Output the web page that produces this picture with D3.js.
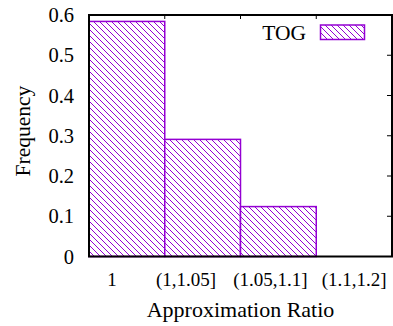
<!DOCTYPE html>
<html>
<head>
<meta charset="utf-8">
<script src="https://cdn.jsdelivr.net/npm/d3@7"></script>
<style>
  body { margin: 0; background: #fff; }
</style>
</head>
<body>
<div id="chart"></div>
<script>
// data
var bins = ["1", "(1,1.05]", "(1.05,1.1]", "(1.1,1.2]"];
var freq = [0.584, 0.291, 0.124, 0];
var yTicks = [0, 0.1, 0.2, 0.3, 0.4, 0.5, 0.6];
var seriesName = "TOG";

var W = 393, H = 326,
    margin = { top: 15, right: 1, bottom: 69.5, left: 89 },
    purple = "#9400d3",
    serif = "'Liberation Serif', 'DejaVu Serif', serif";

var x = d3.scaleBand()
    .domain(bins)
    .range([margin.left, W - margin.right])
    .padding(0);

var y = d3.scaleLinear()
    .domain([0, 0.6])
    .range([H - margin.bottom, margin.top]);

var svg = d3.select("#chart").append("svg")
    .attr("width", W)
    .attr("height", H)
    .attr("font-family", serif);

// hatch pattern like gnuplot's "\\\\" fill
var hs = 6;
var pat = svg.append("defs").append("pattern")
    .attr("id", "hatch")
    .attr("patternUnits", "userSpaceOnUse")
    .attr("width", hs).attr("height", hs);
pat.append("path")
    .attr("d", `M-2,-2L${hs + 2},${hs + 2}M-2,${hs - 2}L2,${hs + 2}M${hs - 2},-2L${hs + 2},2`)
    .attr("stroke", purple)
    .attr("stroke-width", 1)
    .attr("fill", "none");

var x0 = margin.left, x1 = W - margin.right,
    y0 = H - margin.bottom, y1 = margin.top;

// ticks (inside), left + right mirrored
var tickLen = 5;
svg.append("g").selectAll("line").data(yTicks).enter()
  .append("line")
    .attr("x1", x0).attr("x2", x0 + tickLen)
    .attr("y1", d => y(d)).attr("y2", d => y(d))
    .attr("stroke", "#000");
svg.append("g").selectAll("line").data(yTicks).enter()
  .append("line")
    .attr("x1", x1).attr("x2", x1 - tickLen)
    .attr("y1", d => y(d)).attr("y2", d => y(d))
    .attr("stroke", "#000");

// top ticks at bin boundaries
svg.append("g").selectAll("line").data(bins.slice(1)).enter()
  .append("line")
    .attr("x1", d => x(d)).attr("x2", d => x(d))
    .attr("y1", y1).attr("y2", y1 + 4)
    .attr("stroke", "#000");

// bars
var bars = svg.append("g").selectAll("g").data(bins).enter().append("g");
bars.append("rect")
    .attr("x", d => x(d))
    .attr("y", (d, i) => y(freq[i]))
    .attr("width", x.bandwidth())
    .attr("height", (d, i) => y(0) - y(freq[i]))
    .attr("fill", "#fff");
bars.append("rect")
    .attr("x", d => x(d))
    .attr("y", (d, i) => y(freq[i]))
    .attr("width", x.bandwidth())
    .attr("height", (d, i) => y(0) - y(freq[i]))
    .attr("fill", "url(#hatch)")
    .attr("stroke", (d, i) => freq[i] > 0 ? purple : "none")
    .attr("stroke-width", 1.5);

// border
svg.append("rect")
    .attr("x", x0).attr("y", y1)
    .attr("width", x1 - x0).attr("height", y0 - y1)
    .attr("fill", "none")
    .attr("stroke", "#000")
    .attr("stroke-width", 2);

// y tick labels
svg.append("g").selectAll("text").data(yTicks).enter()
  .append("text")
    .attr("x", 74)
    .attr("y", d => y(d))
    .attr("dy", "0.35em")
    .attr("text-anchor", "end")
    .attr("font-size", 20.5)
    .text(d => d === 0 ? "0" : d3.format(".1f")(d));

// x tick labels (gnuplot put them a bit left of the bin centres)
var labelShift = [-15, -16.5, -8, 0];
svg.append("g").selectAll("text").data(bins).enter()
  .append("text")
    .attr("x", (d, i) => x(d) + x.bandwidth() / 2 + labelShift[i])
    .attr("y", 286)
    .attr("text-anchor", "middle")
    .attr("font-size", 19)
    .text(d => d);

// axis titles
svg.append("text")
    .attr("x", (x0 + x1) / 2)
    .attr("y", 317)
    .attr("text-anchor", "middle")
    .attr("font-size", 22)
    .text("Approximation Ratio");

svg.append("text")
    .attr("transform", "translate(30,131) rotate(-90)")
    .attr("text-anchor", "middle")
    .attr("font-size", 21.5)
    .text("Frequency");

// legend
svg.append("text")
    .attr("x", 306)
    .attr("y", 40)
    .attr("text-anchor", "end")
    .attr("font-size", 21.5)
    .text(seriesName);
svg.append("rect")
    .attr("x", 320.5).attr("y", 25)
    .attr("width", 44).attr("height", 14.5)
    .attr("fill", "url(#hatch)")
    .attr("stroke", purple)
    .attr("stroke-width", 1.5);
</script>
</body>
</html>
